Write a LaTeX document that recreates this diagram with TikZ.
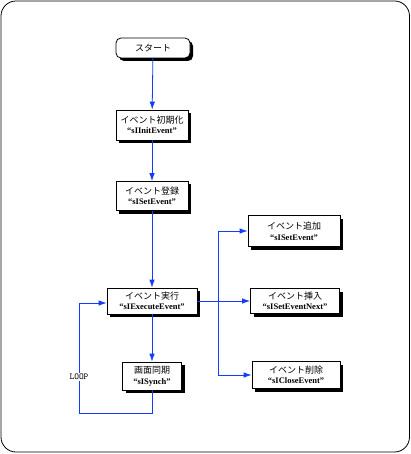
\documentclass[tikz,border=0pt]{standalone}
\usepackage{fontspec}
\setmainfont{Liberation Serif}
\newfontfamily\jp{Noto Sans CJK JP}
\usetikzlibrary{arrows.meta,shadows}
\definecolor{lineblue}{RGB}{20,60,255}
\begin{document}
\begin{tikzpicture}[x=1pt,y=-1pt,
  box/.style={draw=black, fill=white, line width=0.8pt, inner sep=1pt, align=center,
    font=\fontsize{8.5}{10.5}\selectfont,
    drop shadow={shadow xshift=3pt, shadow yshift=-3pt, opacity=1, fill=black}},
  conn/.style={draw=lineblue, line width=0.8pt, -{Latex[length=8pt,width=5.5pt]}},
  plain/.style={draw=lineblue, line width=0.8pt}]
\useasboundingbox (0,0) rectangle (411,454);
\draw[rounded corners=15pt, line width=0.8pt] (1,1) rectangle (409.5,452);

\node[box, rounded corners=5pt, minimum width=74pt, minimum height=20pt] (start) at (153,48) {\jp\fontsize{9}{10}\selectfont スタート};
\node[box, minimum width=72pt, minimum height=30pt] (init) at (152,125) {{\jp\fontsize{9}{10}\selectfont イベント初期化}\\\textbf{“sIInitEvent”}};
\node[box, minimum width=72pt, minimum height=29pt] (reg) at (152,196) {{\jp\fontsize{9}{10}\selectfont イベント登録}\\\textbf{“sISetEvent”}};
\node[box, minimum width=90pt, minimum height=26pt] (exec) at (152,301) {{\jp\fontsize{9}{10}\selectfont イベント実行}\\\textbf{“sIExecuteEvent”}};
\node[box, minimum width=59pt, minimum height=28pt] (sync) at (152,376) {{\jp\fontsize{9}{10}\selectfont 画面同期}\\\textbf{“sISynch”}};
\node[box, minimum width=92pt, minimum height=31pt] (add) at (294,231) {{\jp\fontsize{9}{10}\selectfont イベント追加}\\\textbf{“sISetEvent”}};
\node[box, minimum width=89pt, minimum height=25pt] (ins) at (295,301) {{\jp\fontsize{9}{10}\selectfont イベント挿入}\\\textbf{“sISetEventNext”}};
\node[box, minimum width=88pt, minimum height=27pt] (del) at (296,375) {{\jp\fontsize{9}{10}\selectfont イベント削除}\\\textbf{“sICloseEvent”}};

\draw[conn] (start) -- (init);
\draw[conn] (init) -- (reg);
\draw[conn] (reg) -- (exec);
\draw[conn] (exec) -- (sync);

\coordinate (br) at (218,301);
\draw[plain] (exec.east) -- (br);
\draw[conn] (br) |- (add.west);
\draw[conn] (br) -- (ins.west);
\draw[conn] (br) |- (del.west);

\coordinate (lb) at (152,413);
\coordinate (ll) at (79,413);
\coordinate (lt) at (79,303);
\draw[conn] (sync.south) -- (lb) -- (ll) -- (lt) -- (exec.west |- lt);
\node[fill=white, inner sep=1.5pt, font=\ttfamily\fontsize{9}{10}\selectfont] (loop) at (79,377) {LOOP};
\end{tikzpicture}
\end{document}
